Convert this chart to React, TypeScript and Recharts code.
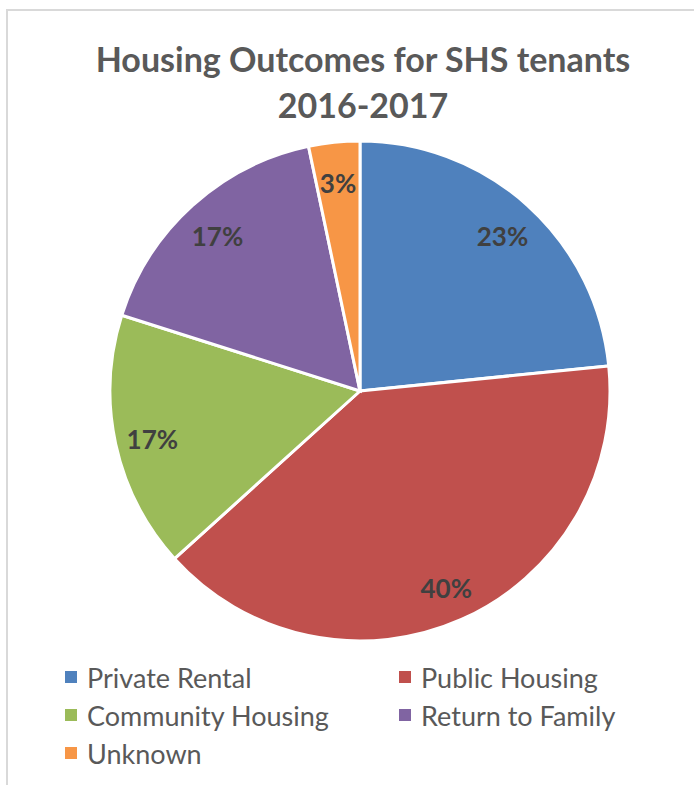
import { Cell, Legend, Pie, PieChart } from 'recharts';

const categories = ['Private Rental', 'Public Housing', 'Community Housing', 'Return to Family', 'Unknown'];
const shares = [23.4, 39.9, 16.6, 16.8, 3.3];
const colors = ['#4f81bd', '#c0504d', '#9bbb59', '#8064a2', '#f79646'];

const data = categories.map((name, i) => ({ name, value: shares[i] }));

const FONT = 'Lato, "Open Sans", sans-serif';
const RAD = Math.PI / 180;

function renderLabel(props: any) {
  const { cx, cy, midAngle, outerRadius, percent } = props;
  const r = outerRadius * 0.85;
  const x = cx + r * Math.cos(-midAngle * RAD);
  const y = cy + r * Math.sin(-midAngle * RAD) + 3;
  return (
    <text
      x={x}
      y={y}
      textAnchor="middle"
      dominantBaseline="central"
      fill="#404040"
      fontFamily={FONT}
      fontWeight={700}
      fontSize={26}
    >
      {`${Math.round(percent * 100)}%`}
    </text>
  );
}

function LegendBox() {
  return (
    <div
      style={{
        display: 'grid',
        gridTemplateColumns: '334px 260px',
        rowGap: 6,
        fontFamily: FONT,
        fontSize: 27,
        color: '#595959',
      }}
    >
      {categories.map((name, i) => (
        <div key={name} style={{ display: 'flex', alignItems: 'center', height: 32 }}>
          <span style={{ width: 12, height: 12, background: colors[i], marginRight: 10, display: 'inline-block' }} />
          {name}
        </div>
      ))}
    </div>
  );
}

export default function App() {
  return (
    <div style={{ position: 'absolute', left: 0, top: 0, width: 694, height: 785, background: '#fff', overflow: 'hidden' }}>
      <div
        style={{
          position: 'absolute',
          left: 6,
          top: 9,
          width: 720,
          height: 800,
          borderTop: '2px solid #d9d9d9',
          borderLeft: '2px solid #d9d9d9',
        }}
      />
      <div
        style={{
          position: 'absolute',
          left: 0,
          top: 36,
          width: 726,
          textAlign: 'center',
          fontFamily: FONT,
          fontWeight: 700,
          fontSize: 34,
          lineHeight: '46px',
          color: '#595959',
        }}
      >
        Housing Outcomes for SHS tenants
        <br />
        2016-2017
      </div>
      <div style={{ position: 'absolute', left: 0, top: 0 }}>
        <PieChart width={694} height={785} margin={{ top: 0, right: 0, bottom: 0, left: 0 }}>
          <Pie
            data={data}
            dataKey="value"
            nameKey="name"
            cx={360}
            cy={391}
            outerRadius={250}
            startAngle={90}
            endAngle={-270}
            stroke="#ffffff"
            strokeWidth={3}
            label={renderLabel}
            labelLine={false}
            isAnimationActive={false}
          >
            {data.map((_, i) => (
              <Cell key={i} fill={colors[i]} />
            ))}
          </Pie>
          <Legend
            content={<LegendBox />}
            wrapperStyle={{ position: 'absolute', left: 65, top: 661, width: 620 }}
          />
        </PieChart>
      </div>
    </div>
  );
}
